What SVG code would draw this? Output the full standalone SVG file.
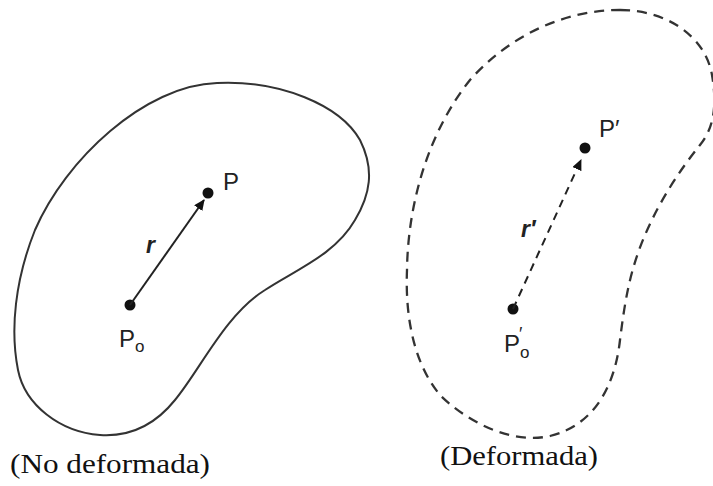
<svg xmlns="http://www.w3.org/2000/svg" width="713" height="486" viewBox="0 0 713 486">
<style>
.body{fill:none;stroke:#333;stroke-width:2}
.dash{stroke-dasharray:10 7;stroke-width:2.3}
.vec{stroke:#222;stroke-width:2;fill:none}
.dot{fill:#111}
.lbl{font-family:"Liberation Sans",Arial,sans-serif;fill:#222}
.cap{font-family:"Liberation Serif","Times New Roman",serif;fill:#111;font-size:27px}
</style>
<defs>
<marker id="ah" markerWidth="12" markerHeight="10" refX="10" refY="5" orient="auto" markerUnits="userSpaceOnUse">
<path d="M0,0 L11,5 L0,10 Z" fill="#111"/>
</marker>
</defs>
<rect width="713" height="486" fill="#fff"/>
<g id="undeformed">
<path class="body" d="M217,83 C280,80 340,105 360,140 C375,170 370,195 355,220 C335,255 295,270 265,290 C225,315 200,370 175,400 C155,425 130,437 100,435 C60,432 25,405 18,370 C10,330 15,280 35,230 C65,160 145,85 217,83 Z"/>
<circle class="dot" cx="130" cy="305" r="5.5"/>
<circle class="dot" cx="208" cy="193" r="5.5"/>
<text class="lbl" x="223" y="190" font-size="24">P</text>
<text class="lbl" x="119" y="347" font-size="24">P<tspan font-size="17" dy="5">o</tspan></text>
<text class="lbl" x="146" y="253" font-size="23" font-weight="bold" font-style="italic">r</text>
<text class="cap" x="10" y="473" textLength="200" lengthAdjust="spacingAndGlyphs">(No deformada)</text>
</g>
<g id="deformed">
<path class="body dash" d="M620,10 C665,10 705,35 712,75 C718,110 712,130 700,145 C680,170 660,200 645,235 C630,270 625,300 620,340 C615,385 595,425 550,436 C510,445 465,420 440,395 C415,365 405,320 407,270 C408,200 430,130 470,80 C510,35 565,10 620,10 Z"/>
<circle class="dot" cx="513" cy="309" r="5.5"/>
<circle class="dot" cx="585" cy="148" r="5.5"/>
<text class="lbl" x="599" y="137" font-size="24">P′</text>
<text class="lbl" x="504" y="352" font-size="24">P<tspan font-size="17" dy="6">o</tspan></text>
<text class="lbl" x="519" y="340" font-size="18">′</text>
<text class="lbl" x="521" y="237" font-size="23" font-weight="bold" font-style="italic">r′</text>
<text class="cap" x="440" y="465" textLength="158" lengthAdjust="spacingAndGlyphs">(Deformada)</text>
</g>
<g id="connectors">
<line class="vec" x1="130" y1="305" x2="204" y2="200" marker-end="url(#ah)"/>
<line class="vec" x1="513" y1="309" x2="581" y2="160" stroke-dasharray="8 6" stroke-width="2.3" marker-end="url(#ah)"/>
</g>
</svg>
